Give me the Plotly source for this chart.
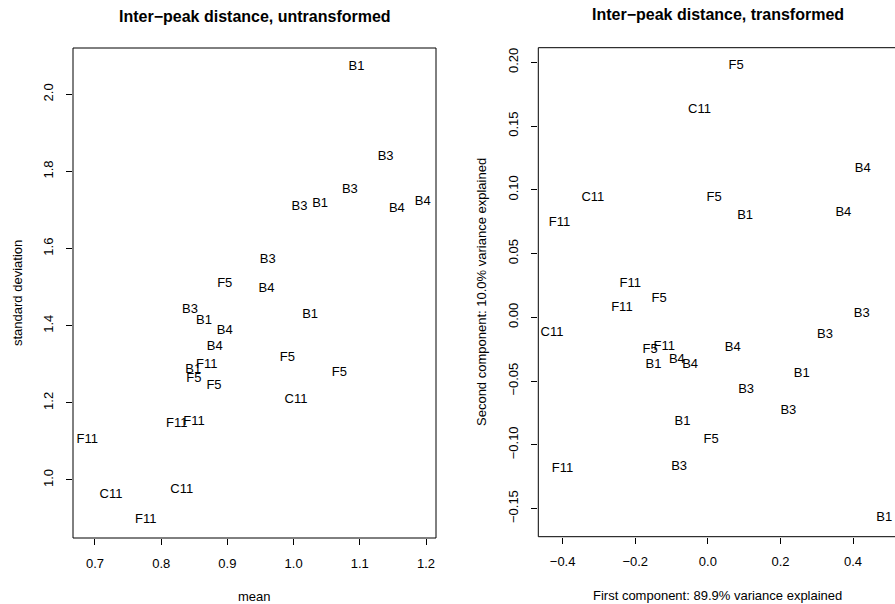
import plotly.graph_objects as go

# ---- Left panel: untransformed (mean vs standard deviation) ----
left_labels = ["B1", "B3", "B3", "B3", "B1", "B4", "B4", "B3", "F5", "B4",
               "B3", "B1", "B4", "B1", "B4", "F5", "F11", "B1", "F5", "F5",
               "F5", "C11", "F11", "F11", "F11", "C11", "C11", "F11"]
left_mean = [1.095, 1.139, 1.085, 1.009, 1.040, 1.156, 1.195, 0.961, 0.896, 0.959,
             0.8435, 0.8647, 0.896, 1.025, 0.881, 0.9905, 0.8687, 0.8485, 0.8495, 0.8798,
             1.069, 1.0036, 0.8234, 0.8495, 0.6884, 0.7242, 0.831, 0.7766]
left_sd = [2.0716, 1.837, 1.752, 1.709, 1.717, 1.704, 1.722, 1.572, 1.508, 1.497,
           1.441, 1.413, 1.387, 1.429, 1.346, 1.318, 1.298, 1.285, 1.263, 1.245,
           1.277, 1.207, 1.147, 1.151, 1.104, 0.961, 0.974, 0.896]

# ---- Right panel: transformed (first vs second component) ----
right_labels = ["F5", "C11", "B4", "C11", "F5", "B1", "B4", "F11", "F11",
                "F5", "F11", "B3", "C11", "B3", "B4", "F11", "F5", "B4", "B4",
                "B1", "B1", "B3", "B3", "B1", "F5", "F11", "B3", "B1"]
right_pc1 = [0.0779, -0.0231, 0.4266, -0.3166, 0.0173, 0.1027, 0.3733, -0.4085, -0.2139,
             -0.134, -0.2367, 0.4239, -0.4294, 0.3229, 0.0688, -0.1203, -0.1588, -0.0853, -0.0487,
             -0.1497, 0.2587, 0.1054, 0.2219, -0.0699, 0.0091, -0.4002, -0.079, 0.4861]
right_pc2 = [0.1973, 0.1626, 0.1169, 0.0941, 0.0941, 0.0795, 0.0824, 0.0742, 0.0261,
             0.0144, 0.0071, 0.0024, -0.0121, -0.0133, -0.0241, -0.0231, -0.0256, -0.033, -0.0374,
             -0.0374, -0.0439, -0.0565, -0.0732, -0.0819, -0.0957, -0.119, -0.1176, -0.1572]

left_xticks = [0.7, 0.8, 0.9, 1.0, 1.1, 1.2]
left_yticks = [1.0, 1.2, 1.4, 1.6, 1.8, 2.0]
right_xticks = [-0.4, -0.2, 0.0, 0.2, 0.4]
right_yticks = [-0.15, -0.10, -0.05, 0.00, 0.05, 0.10, 0.15, 0.20]

W, H = 895, 604
FONT = "Liberation Sans, Arial, Helvetica, sans-serif"

fig = go.Figure()
fig.add_trace(go.Scatter(x=left_mean, y=left_sd, text=left_labels, mode="text",
                         textposition="middle center",
                         textfont=dict(family=FONT, size=13, color="black"),
                         xaxis="x", yaxis="y", showlegend=False, cliponaxis=False,
                         hoverinfo="skip"))
fig.add_trace(go.Scatter(x=right_pc1, y=right_pc2, text=right_labels, mode="text",
                         textposition="middle center",
                         textfont=dict(family=FONT, size=13, color="black"),
                         xaxis="x2", yaxis="y2", showlegend=False, cliponaxis=False,
                         hoverinfo="skip"))

# pixel boxes
L = dict(x0=73, x1=436, y0=48, y1=538)
R = dict(x0=538.3, x1=897.7, y0=47.7, y1=536.7)

def px(v):
    return v / W

def py(v):
    return 1 - v / H

axis_common = dict(showgrid=False, zeroline=False, showline=False, ticks="outside",
                   ticklen=6, tickwidth=1, tickcolor="black",
                   tickfont=dict(family=FONT, size=13, color="black"))

fig.update_layout(
    width=W, height=H, margin=dict(l=0, r=0, t=0, b=0),
    plot_bgcolor="white", paper_bgcolor="white",
    xaxis=dict(domain=[px(L["x0"]), px(L["x1"])], range=[0.6668, 1.2151],
               tickvals=left_xticks, tickformat=".1f", anchor="y",
               ticklabelstandoff=7, **axis_common),
    yaxis=dict(domain=[py(L["y1"]), py(L["y0"])], range=[0.8496, 2.12],
               tickvals=left_yticks, tickformat=".1f", tickangle=-90, anchor="x",
               ticklabelstandoff=8, **axis_common),
    xaxis2=dict(domain=[px(R["x0"]), 1.0], range=[-0.467, 0.5156],
                tickvals=right_xticks, tickformat=".1f", anchor="y2",
                ticklabelstandoff=7, **axis_common),
    yaxis2=dict(domain=[py(R["y1"]), py(R["y0"])], range=[-0.1721, 0.2115],
                tickvals=right_yticks, tickformat=".2f", tickangle=-90, anchor="x2",
                ticklabelstandoff=8, **axis_common),
)

# boxes
for b in (L, R):
    fig.add_shape(type="rect", xref="paper", yref="paper",
                  x0=px(b["x0"]), x1=px(b["x1"]), y0=py(b["y1"]), y1=py(b["y0"]),
                  line=dict(color="black", width=1), fillcolor="rgba(0,0,0,0)", layer="above")

def ann(text, x, y, size=13, bold=False, angle=0):
    fig.add_annotation(text=f"<b>{text}</b>" if bold else text, x=px(x), y=py(y),
                       xref="paper", yref="paper", showarrow=False, textangle=angle,
                       xanchor="center", yanchor="middle",
                       font=dict(family=FONT, size=size, color="black"))

ann("Inter−peak distance, untransformed", 255, 16, size=16, bold=True)
ann("Inter−peak distance, transformed", 718, 14, size=16, bold=True)
ann("mean", 255, 596, size=13)
ann("standard deviation", 17, 293, size=13, angle=-90)
ann("First component: 89.9% variance explained", 717, 595, size=13)
ann("Second component: 10.0% variance explained", 481, 292, size=13, angle=-90)

fig.write_html("out.html", config={"displayModeBar": False},
               post_script="document.body.style.margin='0';document.body.style.overflow='hidden';")
